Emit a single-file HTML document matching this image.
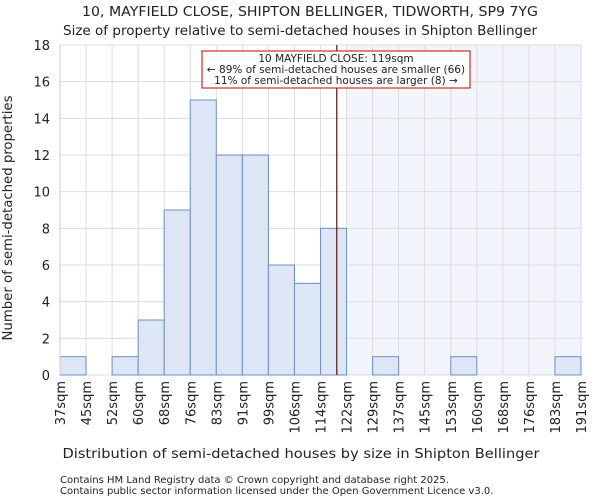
<!DOCTYPE html>
<html><head><meta charset="utf-8"><style>
body{margin:0;background:#fff;font-family:"DejaVu Sans","Liberation Sans",sans-serif;}
svg text{font-family:"DejaVu Sans","Liberation Sans",sans-serif;fill:#222;}
</style></head><body>
<svg id="chart" width="600" height="500" xmlns="http://www.w3.org/2000/svg">
<text x="310" y="16" text-anchor="middle" font-size="13" textLength="456" lengthAdjust="spacingAndGlyphs">10, MAYFIELD CLOSE, SHIPTON BELLINGER, TIDWORTH, SP9 7YG</text>
<text x="300" y="35" text-anchor="middle" font-size="13" textLength="474" lengthAdjust="spacingAndGlyphs">Size of property relative to semi-detached houses in Shipton Bellinger</text>
<g id="grid"></g><g id="bars"></g><g id="axes"></g>
<text x="301" y="458" text-anchor="middle" font-size="13" textLength="477" lengthAdjust="spacingAndGlyphs">Distribution of semi-detached houses by size in Shipton Bellinger</text>
<text transform="translate(12,218) rotate(-90)" text-anchor="middle" font-size="13" textLength="245" lengthAdjust="spacingAndGlyphs">Number of semi-detached properties</text>
<text x="60" y="483" font-size="10">Contains HM Land Registry data © Crown copyright and database right 2025.</text>
<text x="60" y="494" font-size="10">Contains public sector information licensed under the Open Government Licence v3.0.</text>
</svg>
<script>
const edges=[37,45,52,60,68,76,83,91,99,106,114,122,129,137,145,153,160,168,176,183,191];
const counts=[1,0,1,3,9,15,12,12,6,5,8,0,1,0,0,1,0,0,0,1];
const yTicks=[0,2,4,6,8,10,12,14,16,18];
const propertySize=119;
const annotationLines=["10 MAYFIELD CLOSE: 119sqm","← 89% of semi-detached houses are smaller (66)","11% of semi-detached houses are larger (8) →"];
const NS="http://www.w3.org/2000/svg";
const L=60,R=581,T=45,B=375,yMax=18;
const bw=(R-L)/(edges.length-1);
const xi=i=>L+i*bw;
const xv=v=>{for(let i=0;i<edges.length-1;i++){if(v<=edges[i+1])return xi(i)+(v-edges[i])/(edges[i+1]-edges[i])*bw;}return R;};
const y=v=>B-v/yMax*(B-T);
function mk(t,a,p){const e=document.createElementNS(NS,t);for(const k in a)e.setAttribute(k,a[k]);p.appendChild(e);return e;}
const grid=document.getElementById('grid'),bars=document.getElementById('bars'),axes=document.getElementById('axes');
let si=edges.findIndex(e=>e>=propertySize);
const sh=mk('rect',{x:xi(si),y:T,width:R-xi(si),height:B-T,fill:'#f3f5fd'},grid);


edges.forEach((e,i)=>{const l=mk('line',{x1:xi(i),x2:xi(i),y1:T,y2:B,stroke:'#dcdcdc','stroke-width':1},grid);

});
yTicks.forEach(t=>{const l=mk('line',{x1:L,x2:R,y1:y(t),y2:y(t),stroke:'#dcdcdc','stroke-width':1},grid);


const tx=mk('text',{x:L-10,y:y(t)+5,'text-anchor':'end','font-size':13},axes);tx.textContent=t;

});
counts.forEach((c,i)=>{if(!c)return;const r=mk('rect',{x:xi(i),y:y(c),width:bw,height:B-y(c),fill:'#dce6f5',stroke:'#6d8fc7','stroke-width':1},bars);

});
edges.forEach((e,i)=>{const tx=mk('text',{transform:`translate(${xi(i)+5},381) rotate(-90)`,'text-anchor':'end','font-size':13},axes);tx.textContent=e+'sqm';

});
const ax=mk('line',{x1:L,x2:L,y1:T,y2:B,stroke:'#ccc'},axes);


const px=xv(propertySize);
const pl=mk('line',{x1:px,x2:px,y1:T,y2:B,stroke:'#5a1010','stroke-width':1.2},axes);


const box=mk('rect',{x:202,y:51,width:268,height:37,fill:'#fff',stroke:'#c00','stroke-width':1},axes);


annotationLines.forEach((s,i)=>{const tx=mk('text',{x:336,y:62+i*11,'text-anchor':'middle','font-size':10.5},axes);tx.textContent=s;

});
</script>
</body></html>
